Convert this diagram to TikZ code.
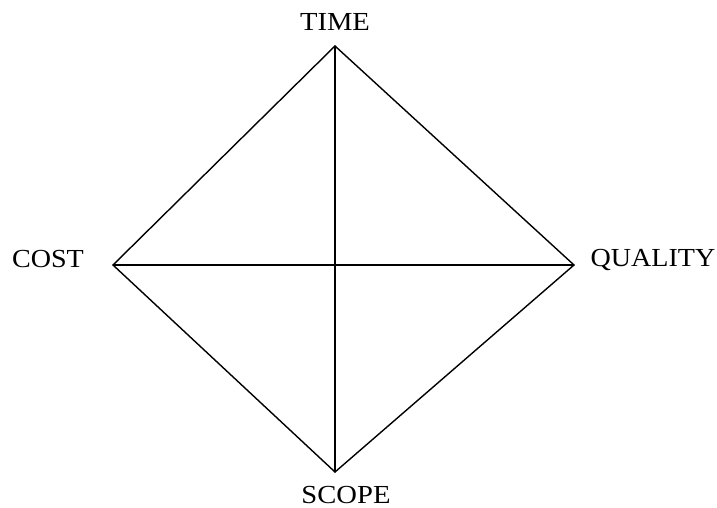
\documentclass[tikz,border=0pt]{standalone}
\usepackage{fontspec}
\setmainfont{Liberation Serif}
\begin{document}
\begin{tikzpicture}[x=1pt,y=-1pt,
  edge/.style={line width=1.4pt,line cap=round,line join=round},
  lbl/.style={inner sep=0pt,anchor=base,font=\fontsize{26}{30}\selectfont}]
\useasboundingbox (0,0) rectangle (717,508);
\coordinate (t) at (335,46);
\coordinate (l) at (113,265);
\coordinate (r) at (574,265);
\coordinate (b) at (335,472);
\draw[edge] (t) -- (r) -- (b) -- (l) -- cycle;
\draw[edge] (t) -- (b);
\draw[edge] (l) -- (r);
\node[lbl] (time) at (335,31) {\scalebox{1.1}[1]{TIME}};
\node[lbl] (cost) at (48,267) {\scalebox{1.08}[1]{COST}};
\node[lbl] (quality) at (653,266) {\scalebox{1.08}[1]{QUALITY}};
\node[lbl] (scope) at (346,503) {\scalebox{1.1}[1]{SCOPE}};
\end{tikzpicture}
\end{document}
